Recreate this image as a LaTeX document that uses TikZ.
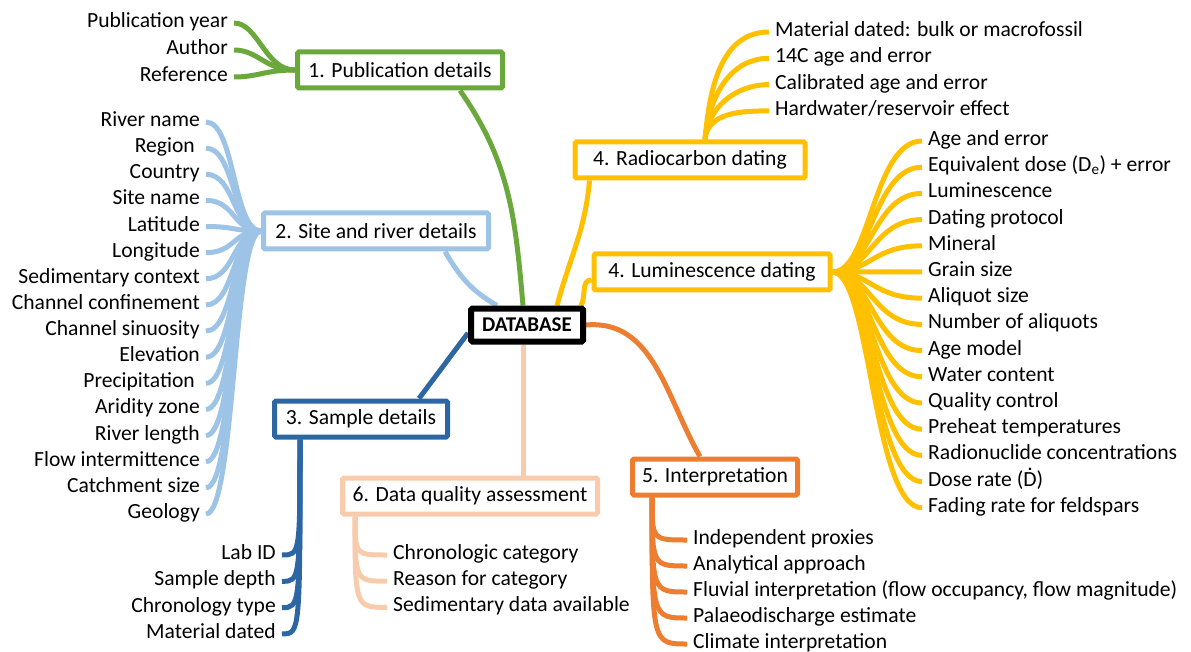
\documentclass[tikz,border=0pt]{standalone}
\usepackage{fontspec}
\setmainfont{Carlito}
\usetikzlibrary{calc}
\definecolor{cgreen}{RGB}{106,168,60}
\definecolor{clblue}{RGB}{157,195,230}
\definecolor{cdblue}{RGB}{44,103,163}
\definecolor{cyellow}{RGB}{255,192,0}
\definecolor{corange}{RGB}{237,125,49}
\definecolor{cpeach}{RGB}{248,203,173}
\pgfdeclarelayer{bg}
\pgfsetlayers{bg,main}
\newcommand{\Ddot}{\ooalign{D\cr\hidewidth\smash{\raisebox{0.70em}{.}}\hidewidth\cr}}
\begin{document}
\begin{tikzpicture}[x=1pt,y=-1pt,
  every node/.style={font=\fontsize{21.6}{24}\selectfont},
  catbox/.style={draw, line width=5pt, fill=white, minimum height=36pt, inner sep=2pt, rounded corners=1.5pt},
  leafL/.style={anchor=east, inner sep=0pt, text height=14pt, text depth=5pt},
  leafR/.style={anchor=west, inner sep=0pt, text height=14pt, text depth=5pt},
  br/.style={line width=5pt},
  lk/.style={line width=5pt}
]
\useasboundingbox (0,0) rectangle (1191,652);

% category boxes
\node[catbox, draw=black, line width=6pt, minimum width=112pt, minimum height=33pt, font=\bfseries\fontsize{21}{24}\selectfont] (db) at (527,325) {DATABASE};
\node[catbox, draw=cgreen, minimum width=205pt] (pub) at (400,70) {1. Publication details};
\node[catbox, draw=clblue, minimum width=225pt] (site) at (376,231) {2. Site and river details};
\node[catbox, draw=cdblue, minimum width=173pt] (sd) at (361,419) {3. Sample details};
\node[catbox, draw=cpeach, minimum width=255pt] (dq) at (470,496) {6. Data quality assessment};
\node[catbox, draw=cyellow, minimum width=230pt] (rc) at (690,160) {4. Radiocarbon dating};
\node[catbox, draw=cyellow, minimum width=236pt] (lum) at (712,272) {4. Luminescence dating};
\node[catbox, draw=corange, minimum width=165pt] (ip) at (715,477) {5. Interpretation};

% leaves
\foreach \t [count=\i, evaluate=\i as \y using 23+(\i-1)*27] in {Publication year, Author, Reference}
  \node[leafL] (g\i) at (228,\y) {\t};
\foreach \t [count=\i, evaluate=\i as \y using 122+(\i-1)*26.13] in {River name, {Region\hspace*{5pt}}, Country, Site name, Latitude, Longitude, Sedimentary context, Channel confinement, Channel sinuosity, Elevation, {Precipitation\hspace*{5pt}}, Aridity zone, River length, Flow intermittence, Catchment size, Geology}
  \node[leafL] (b\i) at (200,\y) {\t};
\foreach \t [count=\i, evaluate=\i as \y using 555+(\i-1)*26.3] in {Lab ID, Sample depth, Chronology type, Material dated}
  \node[leafL] (d\i) at (276,\y) {\t};
\foreach \t [count=\i, evaluate=\i as \y using 555+(\i-1)*26.2] in {Chronologic category, Reason for category, Sedimentary data available}
  \node[leafR] (p\i) at (393,\y) {\t};
\foreach \t [count=\i, evaluate=\i as \y using 32+(\i-1)*26.3] in {Material dated: bulk or macrofossil, 14C age and error, Calibrated age and error, Hardwater/reservoir effect}
  \node[leafR] (r\i) at (775,\y) {\t};
\foreach \t [count=\i, evaluate=\i as \y using 141+(\i-1)*26.2] in {Age and error, {Equivalent dose (D\textsubscript{e}) + error}, Luminescence, Dating protocol, Mineral, Grain size, Aliquot size, Number of aliquots, Age model, Water content, Quality control, Preheat temperatures, Radionuclide concentrations, {Dose rate (\Ddot)}, Fading rate for feldspars}
  \node[leafR] (l\i) at (928,\y) {\t};
\foreach \t [count=\i, evaluate=\i as \y using 540+(\i-1)*26] in {Independent proxies, Analytical approach, {Fluvial interpretation (flow occupancy, flow magnitude)}, Palaeodischarge estimate, Climate interpretation}
  \node[leafR] (o\i) at (693,\y) {\t};

\coordinate (sh) at ([xshift=28pt]sd.south west);
\coordinate (ph) at ([xshift=15pt]dq.south west);
\coordinate (oh) at ([xshift=22pt]ip.south west);
\coordinate (rh) at ([xshift=15pt]rc.north);

\begin{pgfonlayer}{bg}
% links to database
\draw[lk, cgreen] ([xshift=60pt]pub.south) to[out=-55,in=95] ([xshift=-4pt]db.north);
\draw[lk, clblue] ([xshift=69pt]site.south) to[out=-60,in=150] ([xshift=-30pt]db.north);
\draw[lk, cdblue] ([yshift=-8pt]db.west) -- ([xshift=58pt]sd.north);
\draw[lk, cpeach] ([xshift=-4pt]db.south) -- ([xshift=-4pt]db.south |- dq.north);
\draw[lk, cyellow] ([xshift=30pt]db.north) to[out=75,in=-95] ([xshift=17pt]rc.south west);
\draw[lk, cyellow] ([xshift=-5pt]db.north east) to[out=60,in=180] ([yshift=-8pt]lum.west);
\draw[lk, corange] (db.east) to[out=5,in=120] ([xshift=-15pt]ip.north);
% branches
\foreach \i in {1,2,3}
  \draw[br, cgreen] (pub.west) .. controls ([xshift=-30pt]pub.west) and ([xshift=30pt]g\i.east) .. ([xshift=6pt]g\i.east);
\foreach \i in {1,...,16}
  \draw[br, clblue] (site.west) .. controls ([xshift=-28pt]site.west) and ([xshift=35pt]b\i.east) .. ([xshift=6pt]b\i.east);
\draw[br, cdblue] ([yshift=-2pt]sh) -- (sh);
\foreach \i in {1,...,4}
  \draw[br, cdblue] (sh) .. controls (sh |- d\i.east) and (sh |- d\i.east) .. ([xshift=6pt]d\i.east);
\foreach \i in {1,2,3}
  \draw[br, cpeach] (ph) .. controls (ph |- p\i.west) and (ph |- p\i.west) .. ([xshift=-6pt]p\i.west);
\foreach \i in {1,...,5}
  \draw[br, corange] (oh) .. controls (oh |- o\i.west) and (oh |- o\i.west) .. ([xshift=-6pt]o\i.west);
\foreach \i in {1,...,4}
  \draw[br, cyellow] (rh) to[out=85,in=180] ([xshift=-6pt]r\i.west);
\foreach \i in {1,...,15}
  \draw[br, cyellow] (lum.east) .. controls ([xshift=38pt]lum.east) and ([xshift=-55pt]l\i.west) .. ([xshift=-6pt]l\i.west);
\end{pgfonlayer}
\end{tikzpicture}
\end{document}
